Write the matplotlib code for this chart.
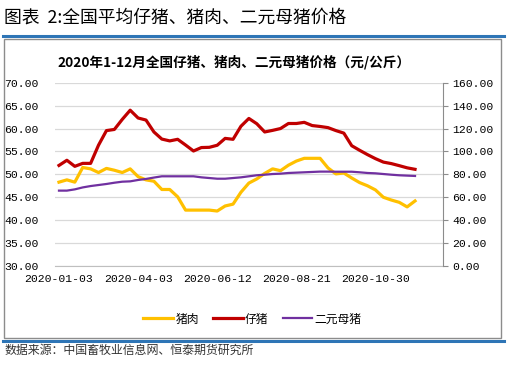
import matplotlib
matplotlib.use("Agg")
import matplotlib.pyplot as plt
from matplotlib.lines import Line2D
from matplotlib.patches import Rectangle
import numpy as np

plt.rcParams['font.family'] = ['Noto Sans CJK SC', 'DejaVu Sans']

# weekly categories (49 slots on the axis, data for the first 46)
n_slots = 49
tick_pos = [0, 10, 20, 30, 40]
tick_labels = ['2020-01-03', '2020-04-03', '2020-06-12', '2020-08-21', '2020-10-30']

# 猪肉 (left axis)
pork = [48.3, 48.8, 48.3, 51.5, 51.2, 50.4, 51.3, 50.9, 50.4, 51.2,
        49.5, 48.8, 48.5, 46.7, 46.7, 45.1, 42.2, 42.2, 42.2, 42.2,
        42.0, 43.1, 43.5, 46.1, 48.1, 49.0, 50.2, 51.2, 50.8, 52.0,
        52.9, 53.5, 53.5, 53.5, 51.4, 50.1, 50.3, 49.2, 48.2, 47.5,
        46.6, 45.0, 44.4, 43.9, 42.9, 44.2]

# 仔猪 (right axis)
piglet = [87.8, 92.3, 87.0, 89.6, 89.6, 105.5, 118.2, 119.2, 128.0, 136.0,
          129.2, 127.4, 117.0, 110.8, 109.2, 110.6, 105.6, 100.4, 103.4, 103.6,
          105.4, 111.4, 110.6, 122.0, 128.8, 124.2, 117.0, 118.4, 120.0, 124.4,
          124.4, 125.4, 122.6, 121.8, 120.8, 118.2, 116.0, 105.0, 101.0, 97.2,
          93.7, 90.7, 89.4, 87.6, 85.7, 84.4]

# 二元母猪 (right axis)
sow = [65.8, 65.8, 66.9, 68.6, 69.8, 70.7, 71.6, 72.7, 73.6, 73.9,
       75.1, 76.0, 77.2, 78.3, 78.3, 78.3, 78.3, 78.3, 77.4, 76.8,
       76.2, 76.2, 76.8, 77.4, 78.3, 79.2, 79.7, 80.3, 80.6, 81.2,
       81.5, 81.8, 82.1, 82.4, 82.4, 82.3, 82.3, 82.3, 81.8, 81.2,
       80.9, 80.3, 79.7, 79.2, 78.9, 78.6]

c_pork = '#FFC000'
c_piglet = '#C00000'
c_sow = '#7030A0'
mono = 'Liberation Mono'

fig = plt.figure(figsize=(5.08, 3.65), dpi=100)

# page title and frame
fig.text(0.008, 0.952, '图表  2:全国平均仔猪、猪肉、二元母猪价格', fontsize=12.8,
         ha='left', va='center', color='black')
fig.add_artist(Line2D([0.006, 0.992], [0.902, 0.902], color='#2E75B6', lw=2.2))
fig.add_artist(Rectangle((0.007, 0.075), 0.980, 0.817, fill=False,
                         edgecolor='#8c8c8c', lw=1.0))
fig.add_artist(Line2D([0.006, 0.992], [0.066, 0.066], color='#2E75B6', lw=2.2))
fig.text(0.008, 0.039, '数据来源：中国畜牧业信息网、恒泰期货研究所', fontsize=8.6,
         ha='left', va='center', color='#333333')

ax = fig.add_axes([0.1083, 0.2712, 0.7632, 0.5022])
ax2 = ax.twinx()

x = np.arange(len(pork))
ax.plot(x, pork, color=c_pork, lw=2.3, label='猪肉', solid_joinstyle='round')
ax2.plot(x, piglet, color=c_piglet, lw=2.3, label='仔猪', solid_joinstyle='round')
ax2.plot(x, sow, color=c_sow, lw=1.6, label='二元母猪', solid_joinstyle='round')

ax.set_xlim(-0.5, n_slots - 0.5)
ax.set_ylim(30, 70)
ax2.set_ylim(0, 160)
ax.set_yticks(np.arange(30, 71, 5))
ax2.set_yticks(np.arange(0, 161, 20))
ax.set_yticklabels(['%.2f' % v for v in np.arange(30, 71, 5)], family=mono, fontsize=8.2)
ax2.set_yticklabels(['%.2f' % v for v in np.arange(0, 161, 20)], family=mono, fontsize=8.2)
ax.set_xticks(tick_pos)
ax.set_xticklabels(tick_labels, family=mono, fontsize=8.2)

ax.grid(axis='y', color='#d9d9d9', lw=0.9)
ax.set_axisbelow(True)
for a in (ax, ax2):
    for s in ('top', 'left', 'right'):
        a.spines[s].set_visible(False)
    a.spines['bottom'].set_color('#bfbfbf')
ax2.spines['right'].set_visible(True)
ax2.spines['right'].set_color('#8c8c8c')
ax2.spines['bottom'].set_visible(False)

ax.tick_params(axis='y', length=0, pad=12)
ax.tick_params(axis='x', length=0, pad=6)
ax2.tick_params(axis='y', length=3.6, color='#8c8c8c', pad=3)

ax.set_title('2020年1-12月全国仔猪、猪肉、二元母猪价格（元/公斤）', fontsize=9.8,
             fontweight='bold', pad=12, x=0.462)

h1, l1 = ax.get_legend_handles_labels()
h2, l2 = ax2.get_legend_handles_labels()
fig.legend(h1 + h2, l1 + l2, loc='center', bbox_to_anchor=(0.497, 0.126), ncol=3,
           frameon=False, fontsize=8.5, handlelength=2.5, handletextpad=0.2,
           columnspacing=1.2)

fig.savefig('out.png', dpi=100)
